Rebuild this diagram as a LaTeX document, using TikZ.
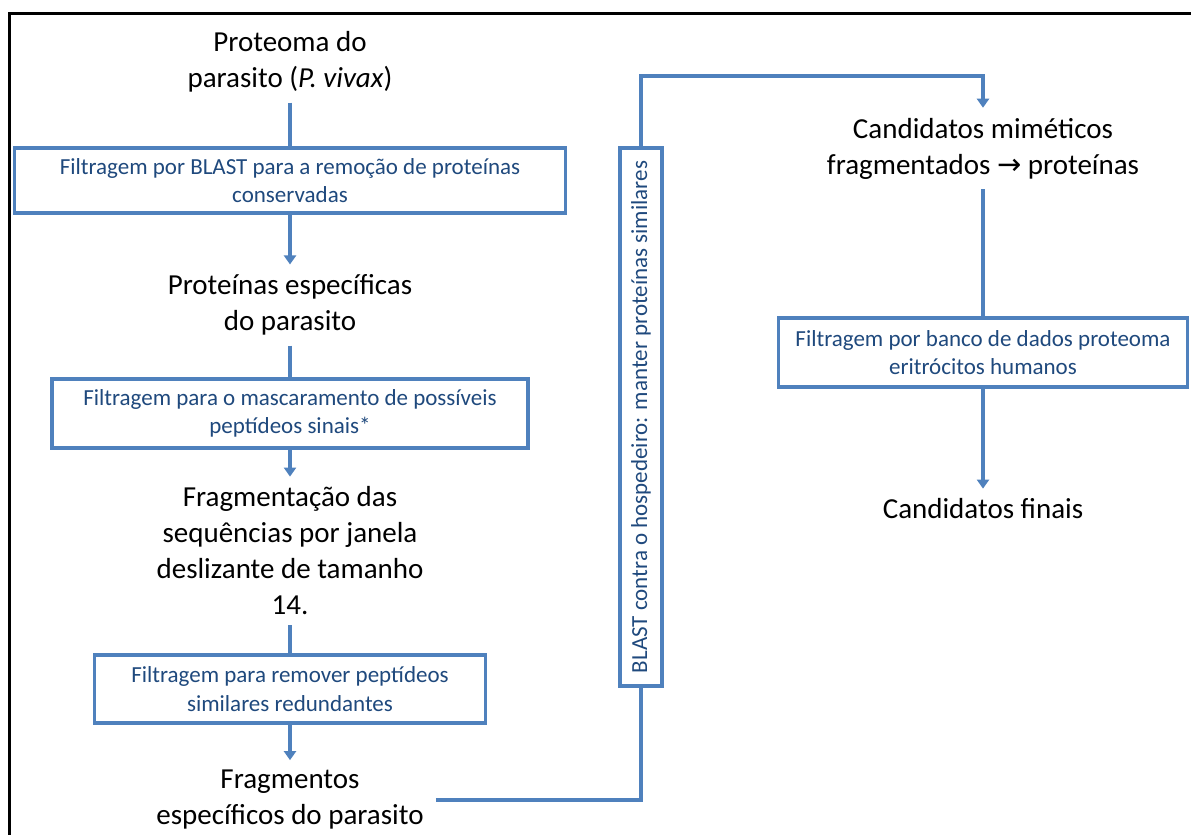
\documentclass[tikz,border=0pt]{standalone}
\usepackage{fontspec}
\setmainfont{Carlito}
\newfontfamily\arrowfont{DejaVu Sans}
\usepackage{xcolor}
\usetikzlibrary{positioning}
\usetikzlibrary{arrows.meta}

\definecolor{boxblue}{HTML}{4F81BD}
\definecolor{textblue}{HTML}{1F497D}

\tikzset{
  flowbox/.style={draw=boxblue, line width=3.5pt, fill=white, text=textblue, align=center, inner sep=0pt, font=\fontsize{23}{28.5}\selectfont},
  flowtext/.style={align=center, inner xsep=12pt, inner ysep=10pt, font=\fontsize{29}{36}\selectfont},
  flowline/.style={boxblue, line width=3.5pt},
  flowarrow/.style={flowline, -{Triangle[width=12pt,length=9pt]}},
}

\begin{document}
\begin{tikzpicture}[x=1pt,y=-1pt]
\useasboundingbox (0,0) rectangle (1191,835);

% frame
\draw[black, line width=3.5pt] (9.5,835) -- (9.5,13.5) -- (1191,13.5);

% left column
{
\node[flowtext] (proteoma) at (290,62) {Proteoma do\\parasito (\textit{P. vivax})};
\node[flowbox, minimum width=551, minimum height=65] (blastcons) at (290,180.5)
{Filtragem por BLAST para a remoção de proteínas\\conservadas};
\node[flowtext] (especificas) at (290,305) {Proteínas específicas\\do parasito};
\node[flowbox, minimum width=476, minimum height=69] (mascara) at (290,413.5)
{Filtragem para o mascaramento de possíveis\\peptídeos sinais*};
\node[flowtext] (fragmentacao) at (290,551) {Fragmentação das\\sequências por janela\\deslizante de tamanho\\14.};
\node[flowbox, minimum width=391, minimum height=68] (redundantes) at (290,689)
{Filtragem para remover peptídeos\\similares redundantes};
\node[flowtext] (fragmentos) at (290,800) {Fragmentos\\específicos do parasito};
}

% BLAST column
\node[flowbox, rotate=90, minimum width=538, minimum height=42] (hospedeiro) at (641,417)
{BLAST contra o hospedeiro: manter proteínas similares};
\coordinate (topcorner) at (641,76);

% right column
{
\node[flowtext] (candidatos) at (983,148.5) {Candidatos miméticos\\fragmentados {\arrowfont →} proteínas};
\node[flowbox, minimum width=409, minimum height=69] (eritrocitos) at (983,352.5)
{Filtragem por banco de dados proteoma\\eritrócitos humanos};
\node[flowtext] (finais) at (983,509) {Candidatos finais};
}

% connectors
\draw[flowline] (proteoma) -- (blastcons);
\draw[flowarrow] (blastcons) -- (especificas);
\draw[flowline] (especificas) -- (mascara);
\draw[flowarrow] (mascara) -- (fragmentacao);
\draw[flowline] (fragmentacao) -- (redundantes);
\draw[flowarrow] (redundantes) -- (fragmentos);
\draw[flowline] (fragmentos.east) -| (hospedeiro.west);
\draw[flowarrow] (hospedeiro.east) -- (topcorner) -| (candidatos.north);
\draw[flowline] (candidatos) -- (eritrocitos);
\draw[flowarrow] (eritrocitos) -- (finais);

\end{tikzpicture}
\end{document}
